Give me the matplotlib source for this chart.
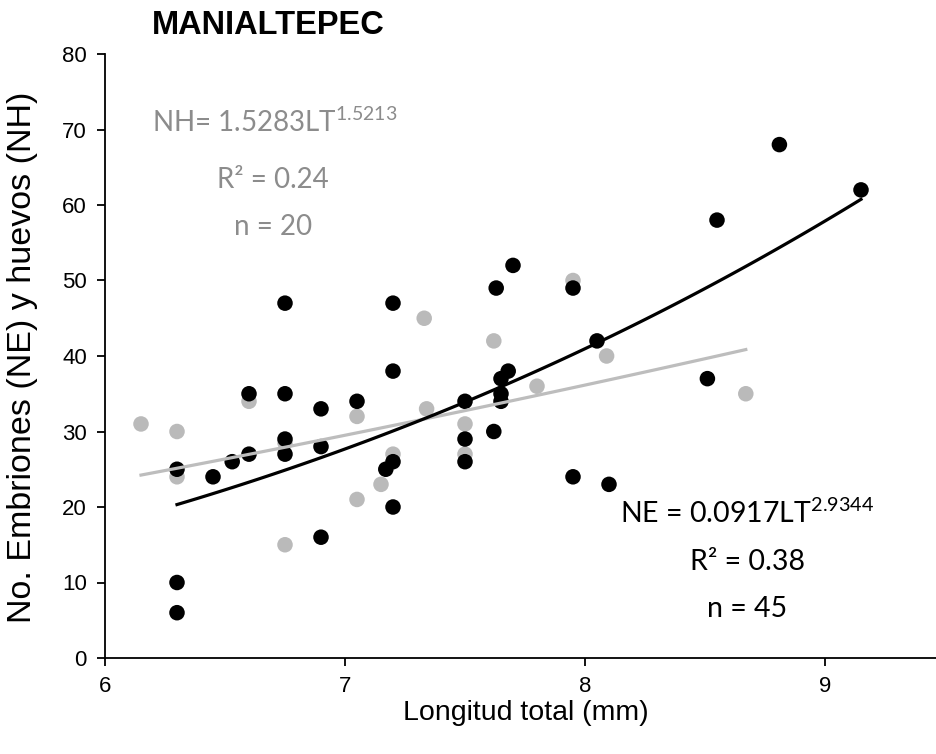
import numpy as np
import matplotlib
matplotlib.use("Agg")
import matplotlib.pyplot as plt

# eggs (NH) - grey
nh_lt = [6.15, 6.30, 6.30, 6.60, 6.75, 6.75, 7.05, 7.05, 7.15, 7.20,
         7.33, 7.34, 7.50, 7.50, 7.62, 7.80, 7.95, 8.09, 8.67]
nh_n = [31, 30, 24, 34, 28.5, 15, 32, 21, 23, 27,
        45, 33, 31, 27, 42, 36, 50, 40, 35]

# embryos (NE) - black
ne_lt = [6.30, 6.30, 6.30, 6.45, 6.53, 6.60, 6.60, 6.75, 6.75, 6.75,
         6.75, 6.90, 6.90, 6.90, 7.05, 7.20, 7.20, 7.20, 7.17, 7.20,
         7.50, 7.50, 7.50, 7.62, 7.63, 7.70, 7.68, 7.65, 7.65, 7.65,
         7.95, 7.95, 8.05, 8.10, 8.51, 8.55, 8.81, 9.15]
ne_n = [10, 6, 25, 24, 26, 27, 35, 35, 47, 29,
        27, 33, 28, 16, 34, 38, 47, 26, 25, 20,
        34, 29, 26, 30, 49, 52, 38, 37, 35, 34,
        49, 24, 42, 23, 37, 58, 68, 62]

# power fits y = a * LT^b
nh_a, nh_b = 1.5283, 1.5213
ne_a, ne_b = 0.0917, 2.9344

plt.rcParams['font.family'] = ['Liberation Sans', 'DejaVu Sans']

fig = plt.figure(figsize=(9.37, 7.54), dpi=100)
ax = fig.add_axes([105/937, 96/754, 832/937, 604/754])

ax.scatter(nh_lt, nh_n, s=125, color='#bababa', edgecolors='none', zorder=2)
ax.scatter(ne_lt, ne_n, s=125, color='black', edgecolors='none', zorder=3)

xg = np.linspace(min(nh_lt), max(nh_lt), 100)
ax.plot(xg, nh_a * xg ** nh_b, color='#bdbdbd', lw=2.3, zorder=4)
xb = np.linspace(min(ne_lt), max(ne_lt), 100)
ax.plot(xb, ne_a * xb ** ne_b, color='black', lw=2.3, zorder=5)

ax.set_xlim(6, 6 + 832/240)
ax.set_ylim(0, 80)
ax.set_xticks([6, 7, 8, 9])
ax.set_yticks(range(0, 81, 10))
ax.spines['top'].set_visible(False)
ax.spines['right'].set_visible(False)
for s in ['left', 'bottom']:
    ax.spines[s].set_linewidth(1.3)
ax.tick_params(direction='out', length=6, width=1.3, labelsize=16, pad=7)

fig.text(268/937, 1 - 26/754, 'MANIALTEPEC', ha='center', va='center',
         fontsize=23.5, fontweight='bold')
fig.text(526/937, 1 - 713/754, 'Longitud total (mm)', ha='center',
         va='center', fontsize=20.5)
fig.text(23/937, 1 - 357/754, 'No. Embriones (NE) y huevos (NH)', ha='center',
         va='center', fontsize=24.5, rotation=90)

ann = dict(ha='center', va='baseline', family=['Lato', 'DejaVu Sans'])
gray = '#8c8c8c'
fig.text(275/937, 1 - 132/754, r'NH= 1.5283LT$^{\mathregular{1.5213}}$',
         color=gray, fontsize=20, **ann)
fig.text(273/937, 1 - 188/754, 'R² = 0.24', color=gray, fontsize=20, **ann)
fig.text(273/937, 1 - 235/754, 'n = 20', color=gray, fontsize=20, **ann)

fig.text(747/937, 1 - 523/754, r'NE = 0.0917LT$^{\mathregular{2.9344}}$',
         color='black', fontsize=20.5, **ann)
fig.text(748/937, 1 - 570/754, 'R² = 0.38', color='black', fontsize=20.5, **ann)
fig.text(747/937, 1 - 617/754, 'n = 45', color='black', fontsize=20.5, **ann)

fig.savefig('out.png', dpi=100, facecolor='white')
